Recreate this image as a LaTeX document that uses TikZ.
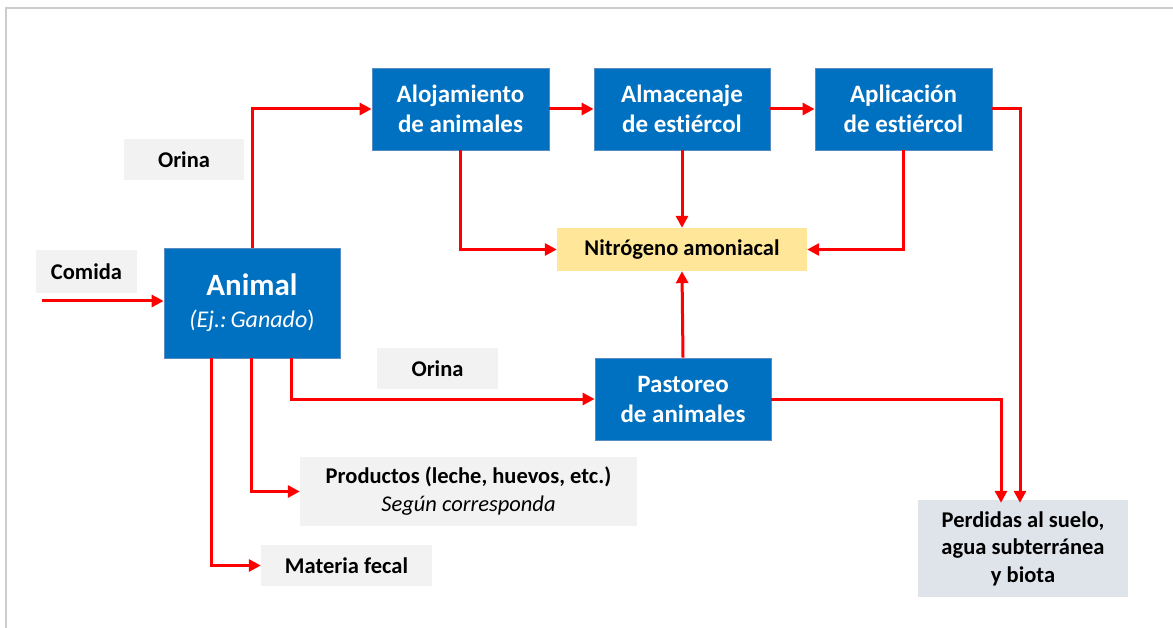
\documentclass[tikz,border=0pt]{standalone}
\usepackage{fontspec}
\setmainfont{Carlito}[Ligatures=NoCommon]
\usetikzlibrary{arrows.meta}
\definecolor{boxblue}{HTML}{0070C0}
\definecolor{boxedge}{HTML}{5A8CC4}
\definecolor{lblgray}{HTML}{F2F2F2}
\definecolor{nitro}{HTML}{FFE699}
\definecolor{loss}{HTML}{DFE3EA}
\definecolor{flow}{HTML}{FF0000}
\definecolor{frame}{HTML}{CCCCCC}
\tikzset{
  bluebox/.style={draw=boxedge, line width=0.8pt, fill=boxblue, text=white, align=center,
    font=\fontsize{25}{30}\selectfont\bfseries, inner sep=0pt},
  graylbl/.style={fill=lblgray, align=center, font=\fontsize{22.5}{28}\selectfont\bfseries, inner sep=0pt},
  flowline/.style={draw=flow, line width=3pt, -{Triangle[length=12pt,width=12pt]}},
}
\begin{document}
\begin{tikzpicture}[x=1pt,y=-1pt]
\useasboundingbox (0,0) rectangle (1173,628);
\draw[frame, line width=2pt] (6,640) -- (6,8) -- (1180,8);

\node[bluebox, minimum width=176pt, minimum height=110pt] (animal) at (252,303)
  {\fontsize{31}{36}\selectfont Animal\\[2pt]\fontsize{24}{30}\selectfont\mdseries\itshape (Ej.:\,Ganado\/\upshape)};
\node[graylbl, minimum width=101pt, minimum height=43pt] (comida) at (86.5,271.5) {Comida};
\node[graylbl, minimum width=120pt, minimum height=41pt] (orina1) at (184,159.5) {Orina};
\node[bluebox, minimum width=177pt, minimum height=82pt] (aloj) at (460.5,109) {Alojamiento\\de animales};
\node[bluebox, minimum width=176pt, minimum height=82pt] (alm) at (682,109) {Almacenaje\\de estiércol};
\node[bluebox, minimum width=177pt, minimum height=82pt] (apl) at (903.5,109) {Aplicación\\de estiércol};
\node[fill=nitro, minimum width=250pt, minimum height=43pt, inner sep=0pt,
  font=\fontsize{22.5}{28}\selectfont\bfseries] (nit) at (682,249.5) {Nitrógeno amoniacal};
\node[bluebox, minimum width=176pt, minimum height=82pt] (past) at (683,399) {Pastoreo\\de animales};
\node[graylbl, minimum width=121pt, minimum height=41pt] (orina2) at (437.5,368.5) {Orina};
\node[fill=loss, minimum width=210pt, minimum height=97pt, inner sep=0pt, align=center,
  font=\fontsize{22.5}{27.5}\selectfont\bfseries] (perd) at (1023,548.5) {Perdidas al suelo,\\agua subterránea\\y biota};
\node[graylbl, minimum width=337pt, minimum height=69pt] (prod) at (468.5,491.5)
  {Productos (leche, huevos, etc.)\\\mdseries\itshape Según corresponda};
\node[graylbl, minimum width=171pt, minimum height=41pt] (mat) at (346.5,565.5) {Materia fecal};

\coordinate (comidastart) at (42,301);
\draw[flowline] (comidastart) -- (comidastart -| animal.west);
\draw[flowline] (animal.north) |- (aloj.west);
\draw[flowline] (aloj) -- (alm);
\draw[flowline] (alm) -- (apl);
\draw[flowline] (apl.east) -| ([xshift=-3pt,yshift=-3pt]perd.north);
\draw[flowline] (past.east) -| ([xshift=-22pt,yshift=-3pt]perd.north);
\draw[flowline] (aloj.south) |- (nit.west);
\draw[flowline] (alm.south) -- (nit.north);
\draw[flowline] (apl.south) |- (nit.east);
\draw[flowline] (past.north) -- (nit.south);
\draw[flowline] ([xshift=39pt]animal.south) |- (past.west);
\draw[flowline] ([xshift=-1pt]animal.south) |- (prod.west);
\draw[flowline] ([xshift=-41pt]animal.south) |- (mat.west);
\end{tikzpicture}
\end{document}
